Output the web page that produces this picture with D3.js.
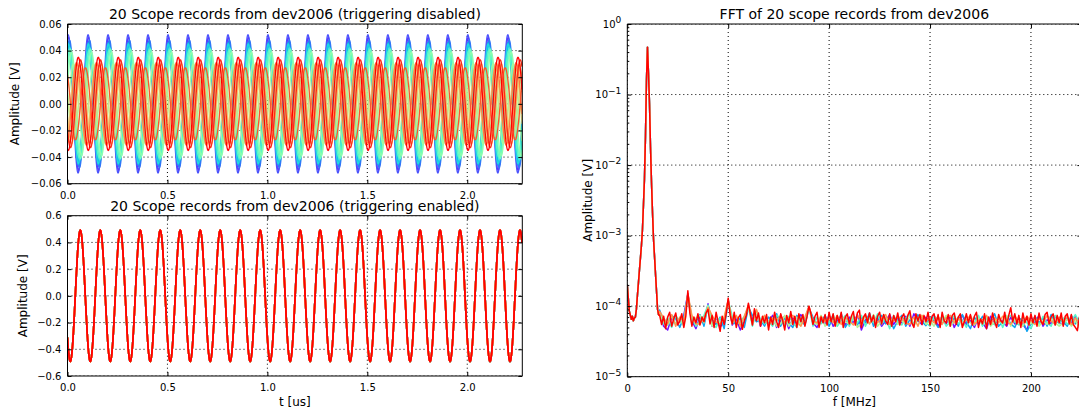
<!DOCTYPE html>
<html><head><meta charset="utf-8">
<script src="https://cdn.jsdelivr.net/npm/d3@7"></script>
<style>
body{margin:0;background:#fff}
text{font-family:"DejaVu Sans",sans-serif;fill:#000}
.axis path{display:none}
.axis line{stroke:#000;stroke-width:1}
.grid line{stroke:#000;stroke-width:1;stroke-dasharray:1,3}
</style>
</head><body>
<svg id="c" width="1079" height="409"></svg>
<script>
// ---------------- data ----------------
const signalFreqMHz = 10;          // carrier frequency seen in all panels
const recordLengthUs = 2.2755;     // x-axis extent of the scope records
const sampleStepUs = 0.002;

// untriggered records: amplitude [V] and time of first maximum [us]
const untrigAmp = [0.047,0.050,0.052,0.048,0.046,0.044,0.045,0.042,0.040,0.041,
                   0.039,0.030,0.026,0.028,0.030,0.029,0.031,0.027,0.033,0.035];
const untrigPeakT = [0.008,0.005,0.003,0.010,0.005,0.008,0.004,0.012,0.007,0.015,
                     0.020,0.030,0.080,0.040,0.070,0.060,0.045,0.090,0.065,0.054];
// triggered records
const trigAmp = new Array(20).fill(0.49);
const trigPeakT = new Array(20).fill(0.064);

// tick values
const tTicks = [0.0,0.5,1.0,1.5,2.0];
const topYTicks = [-0.06,-0.04,-0.02,0.0,0.02,0.04,0.06];
const botYTicks = [-0.6,-0.4,-0.2,0.0,0.2,0.4,0.6];
const fTicks = [0,50,100,150,200];
const fftDecades = [1e-5,1e-4,1e-3,1e-2,1e-1,1];

// FFT: shared peak region (0 .. 15.5 MHz, 0.5 MHz step)
const peakFreq = [0,0.5,1,1.5,2,2.5,3,3.5,4,4.5,5,5.5,6,6.5,7,7.5,8,8.5,9,9.5,10,10.5,11,11.5,12,12.5,13,13.5,14,14.5,15,15.5];
const peakAmp = [2.0e-4,1.3e-4,8.5e-5,7.5e-5,6.5e-5,7.2e-5,6.2e-5,6.8e-5,7.0e-5,9e-5,
                 1.4e-4,2.1e-4,3.2e-4,4.8e-4,7.2e-4,1.2e-3,2.7e-3,6.3e-3,2.5e-2,1.6e-1,
                 4.7e-1,2.0e-1,7.5e-2,1.8e-2,5.6e-3,2.1e-3,8.9e-4,5e-4,2.8e-4,1.6e-4,9e-5,7.5e-5];

// noise floor, units of 1e-6 V
// red record: 16 .. 225 MHz, 1 MHz step
const noiseFreqFine = d3.range(16, 226, 1);
const noiseRed = [
 75,55,72,48,70,82,52,66,80,54, 62,78,50,72,165,80,52,70,58,78,
 54,70,60,80,90,56,74,50,82,60, 44,72,55,78,130,74,56,82,50,68,
 76,47,62,74,110,78,54,92,62,80, 52,72,58,76,46,70,55,82,60,50,
 78,62,46,74,58,84,55,72,50,78, 60,76,52,70,100,78,55,72,82,50,
 70,58,76,54,82,60,78,52,74,58, 82,50,70,78,56,72,84,54,80,88,
 50,70,78,58,80,60,74,50,72,82, 56,76,62,55,78,52,74,60,80,54,
 70,78,56,74,86,58,50,78,62,76, 55,74,60,82,54,72,78,56,76,50,
 82,62,58,76,52,74,80,55,70,78, 50,60,78,58,76,54,72,82,50,66,
 56,78,48,70,55,80,60,50,76,62, 58,82,54,74,95,60,78,56,74,50,
 80,58,72,54,78,58,74,52,80,60, 55,76,82,56,70,78,54,74,58,80,
 52,72,78,56,76,55,50,45,70,62];
// other records: 16 .. 224 MHz, 2 MHz step
const noiseFreqCoarse = d3.range(16, 225, 2);
const noisePurple = [
 84,52,46,70,55,60,74,150,62,48, 72,56,108,52,70,50,62,122,54,66,
 46,60,100,64,86,52,70,58,74,50, 62,72,48,68,56,76,62,98,58,50,
 68,55,74,52,62,72,54,70,58,76, 46,64,74,56,70,52,62,76,55,68,
 58,72,52,78,62,55,70,58,74,52, 64,56,72,50,66,74,55,62,50,70,
 58,48,72,55,68,60,52,70,56,62, 55,46,70,58,74,52,64,56,72,60,
 54,68,58,72,50];
const noiseBlue = [
 88,62,54,74,66,50,70,142,56,60, 76,52,102,64,55,70,48,116,62,54,
 68,50,96,74,60,64,52,70,60,78, 52,68,58,50,74,62,54,94,70,56,
 60,74,52,68,56,78,50,62,72,54, 70,58,80,52,64,74,56,68,48,62,
 74,52,64,56,76,60,53,70,62,50, 58,72,55,68,52,76,60,48,70,56,
 72,55,64,78,52,60,72,56,50,68, 62,44,56,72,58,68,52,76,55,64,
 60,52,74,56,68];
const noiseCyan = [
 80,56,68,50,74,60,56,146,70,52, 62,74,104,56,50,68,58,120,72,55,
 60,72,98,52,84,66,56,62,52,74, 68,54,72,58,50,70,56,96,52,70,
 56,68,58,76,52,62,74,52,68,58, 74,52,68,58,78,55,70,48,74,60,
 54,68,76,55,62,72,58,52,72,64, 70,52,60,74,56,64,50,70,58,74,
 52,68,58,55,72,50,68,74,60,54, 70,58,48,66,55,72,58,52,74,56,
 68,55,62,76,58];
const noiseGreen = [
 78,60,54,72,56,68,52,144,58,68, 74,58,100,52,70,58,68,118,56,72,
 58,68,96,56,82,55,70,60,68,52, 56,74,52,62,70,55,68,95,60,55,
 74,52,68,62,55,72,60,56,74,50, 58,70,56,76,52,62,68,58,72,55,
 62,56,72,52,68,74,55,62,52,70, 60,74,52,62,68,52,72,58,54,68,
 56,72,52,60,68,56,74,52,68,62, 52,68,56,70,52,62,55,68,58,52,
 58,66,52,62,50];
const noiseOrange = [
 84,68,56,76,52,70,62,150,74,56, 56,68,96,74,60,55,70,124,58,74,
 52,72,104,56,90,60,74,52,68,62, 74,58,68,74,60,52,70,100,62,58,
 72,60,68,58,74,55,70,62,54,74, 62,74,56,70,58,68,76,55,62,70,
 68,58,55,70,52,74,62,68,58,72, 55,68,74,58,70,55,64,74,56,62,
 64,74,55,68,58,72,62,55,74,58, 58,72,62,55,68,58,74,62,55,70,
 62,72,55,68,56];

const fftSeries = [
  {c:0.02, f:noiseFreqCoarse, v:noisePurple},
  {c:0.22, f:noiseFreqCoarse, v:noiseBlue},
  {c:0.42, f:noiseFreqCoarse, v:noiseCyan},
  {c:0.60, f:noiseFreqCoarse, v:noiseGreen},
  {c:0.80, f:noiseFreqCoarse, v:noiseOrange},
  {c:1.00, f:noiseFreqFine,   v:noiseRed}
];

// ---------------- helpers ----------------
function rainbow(x){ // matplotlib "rainbow" colormap
  const r=Math.min(1,Math.abs(2*x-0.5)), g=Math.sin(Math.PI*x), b=Math.cos(Math.PI*x/2);
  return d3.rgb(255*r,255*Math.max(0,g),255*Math.max(0,b)).toString();
}
const svg = d3.select("#c");
const defs = svg.append("defs");
let clipId = 0;

function frame(box, x, y, opt){
  const g = svg.append("g");
  const id = "clip"+(clipId++);
  defs.append("clipPath").attr("id",id).append("rect")
    .attr("x",box.l).attr("y",box.t).attr("width",box.r-box.l).attr("height",box.b-box.t);
  const grid = g.append("g").attr("class","grid").attr("clip-path",`url(#${id})`);
  grid.selectAll("line.v").data(opt.xTicks).join("line")
    .attr("x1",d=>x(d)).attr("x2",d=>x(d)).attr("y1",box.t).attr("y2",box.b);
  grid.selectAll("line.h").data(opt.yTicks).enter().append("line")
    .attr("y1",d=>y(d)).attr("y2",d=>y(d)).attr("x1",box.l).attr("x2",box.r);
  const plot = g.append("g").attr("clip-path",`url(#${id})`);
  return {g, plot, id};
}

function axes(g, box, x, y, opt){
  const ax = g.append("g").attr("class","axis").attr("font-size",12);
  const xb = d3.axisBottom(x).tickValues(opt.xTicks).tickSize(-4).tickPadding(8)
    .tickFormat(opt.xFmt || (()=>""));
  ax.append("g").attr("transform",`translate(0,${box.b})`).call(xb);
  ax.append("g").attr("transform",`translate(0,${box.t})`)
    .call(d3.axisTop(x).tickValues(opt.xTicks).tickSize(-4).tickFormat(""));
  const yl = d3.axisLeft(y).tickValues(opt.yTicks).tickSize(-4).tickPadding(6).tickFormat(opt.yFmt);
  const gy = ax.append("g").attr("transform",`translate(${box.l},0)`).call(yl);
  ax.append("g").attr("transform",`translate(${box.r},0)`)
    .call(d3.axisRight(y).tickValues(opt.yTicks).tickSize(-4).tickFormat(""));
  if(opt.minor){
    ax.append("g").attr("transform",`translate(${box.l},0)`)
      .call(d3.axisLeft(y).tickValues(opt.minor).tickSize(-2).tickFormat(""));
    ax.append("g").attr("transform",`translate(${box.r},0)`)
      .call(d3.axisRight(y).tickValues(opt.minor).tickSize(-2).tickFormat(""));
  }
  ax.selectAll("text").attr("fill","#000").style("font-family","DejaVu Sans");
  const sp = g.append("g").attr("fill","none").attr("stroke","#000").attr("stroke-width",1);
  sp.append("line").attr("x1",box.l).attr("x2",box.r).attr("y1",box.t).attr("y2",box.t);
  sp.append("line").attr("x1",box.l).attr("x2",box.r).attr("y1",box.b).attr("y2",box.b);
  sp.append("line").attr("x1",box.l).attr("x2",box.l).attr("y1",box.t).attr("y2",box.b);
  sp.append("line").attr("x1",box.r).attr("x2",box.r).attr("y1",box.t).attr("y2",box.b);
  return gy;
}

const minusFmt = p => d => d3.format(`.${p}f`)(d).replace("-","\u2212");

// ---------------- time-domain panels ----------------
const tSamples = d3.range(0, recordLengthUs + 1e-9, sampleStepUs);

function timePanel(box, yDom, yTicks, amps, peaks, title, showXLabel, ylabX, lw){
  const x = d3.scaleLinear().domain([0, recordLengthUs]).range([box.l, box.r]);
  const y = d3.scaleLinear().domain(yDom).range([box.b, box.t]);
  const f = frame(box, x, y, {xTicks:tTicks, yTicks});
  const line = d3.line().x(d=>x(d[0])).y(d=>y(d[1]));
  amps.forEach((A,i)=>{
    const pts = tSamples.map(t=>[t, A*Math.cos(2*Math.PI*signalFreqMHz*(t-peaks[i]))]);
    f.plot.append("path").attr("d",line(pts)).attr("fill","none")
      .attr("stroke",rainbow(i/(amps.length-1))).attr("stroke-width",lw);
  });
  axes(f.g, box, x, y, {xTicks:tTicks, yTicks, xFmt:d3.format(".1f"), yFmt:minusFmt(yDom[1]<0.1?2:1)});
  svg.append("text").attr("x",(box.l+box.r)/2).attr("y",box.t-5).attr("text-anchor","middle")
    .attr("font-size",14).text(title);
  svg.append("text").attr("transform",`translate(${ylabX},${(box.t+box.b)/2}) rotate(-90)`)
    .attr("text-anchor","middle").attr("font-size",12).text("Amplitude [V]");
  if(showXLabel) svg.append("text").attr("x",(box.l+box.r)/2).attr("y",box.b+30)
    .attr("text-anchor","middle").attr("font-size",12).text("t [us]");
}

timePanel({l:67.5,r:522.3,t:24,b:183.7}, [-0.06,0.06], topYTicks, untrigAmp, untrigPeakT,
  "20 Scope records from dev2006 (triggering disabled)", false, 19, 1.3);
timePanel({l:67.5,r:522.3,t:215.7,b:376}, [-0.6,0.6], botYTicks, trigAmp, trigPeakT,
  "20 Scope records from dev2006 (triggering enabled)", true, 27, 1.6);

// ---------------- FFT panel ----------------
(function(){
  const box = {l:627.3, r:1081.4, t:24, b:376.7};
  const x = d3.scaleLinear().domain([0,225]).range([box.l, box.r]);
  const y = d3.scaleLog().domain([1e-5,1]).range([box.b, box.t]);
  const f = frame(box, x, y, {xTicks:fTicks, yTicks:fftDecades});
  const line = d3.line().x(d=>x(d[0])).y(d=>y(d[1]));
  fftSeries.forEach(s=>{
    const pts = peakFreq.map((fr,i)=>[fr, peakAmp[i]])
      .concat(s.f.map((fr,i)=>[fr, s.v[i]*1e-6]));
    f.plot.append("path").attr("d",line(pts)).attr("fill","none")
      .attr("stroke",rainbow(s.c)).attr("stroke-width",1.5).attr("stroke-linejoin","round");
  });
  const minor = [];
  fftDecades.slice(0,-1).forEach(d=>{ for(let k=2;k<10;k++) minor.push(d*k); });
  const gy = axes(f.g, box, x, y, {xTicks:fTicks, yTicks:fftDecades, xFmt:d3.format("d"),
    yFmt:()=>"", minor});
  gy.selectAll(".tick text").each(function(d){
    const t = d3.select(this);
    const e = Math.round(Math.log10(d));
    t.text(null);
    t.append("tspan").text("10");
    t.append("tspan").attr("dy","-0.5em").attr("font-size",9).text(e===0?"0":("\u2212"+(-e)));
  });
  svg.append("text").attr("x",(box.l+box.r)/2).attr("y",box.t-5).attr("text-anchor","middle")
    .attr("font-size",14).text("FFT of 20 scope records from dev2006");
  svg.append("text").attr("transform",`translate(592,${(box.t+box.b)/2}) rotate(-90)`)
    .attr("text-anchor","middle").attr("font-size",12).text("Amplitude [V]");
  svg.append("text").attr("x",(box.l+box.r)/2).attr("y",box.b+29)
    .attr("text-anchor","middle").attr("font-size",12).text("f [MHz]");
})();
</script>
</body></html>
